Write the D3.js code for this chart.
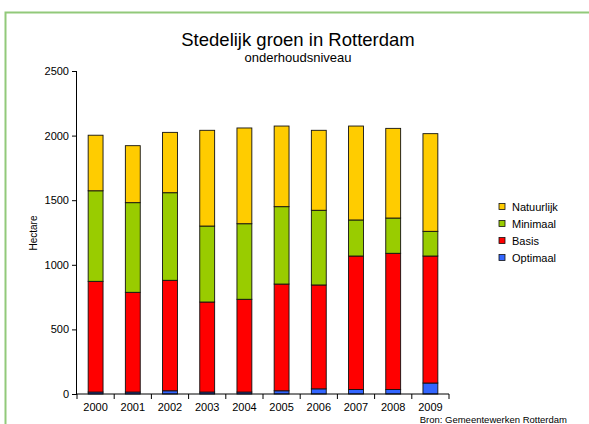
<!DOCTYPE html>
<html>
<head>
<meta charset="utf-8">
<script src="https://cdn.jsdelivr.net/npm/d3@7"></script>
<style>
  body { margin: 0; background: #fff; }
  text { font-family: "Liberation Sans", Arial, sans-serif; }
</style>
</head>
<body>
<div id="chart"></div>
<script>
// categories and series (hectare)
let years = ["2000", "2001", "2002", "2003", "2004", "2005", "2006", "2007", "2008", "2009"]
let optimaal   = [15, 15, 25, 15, 15, 25, 40, 35, 35, 85]
let basis      = [857, 772, 855, 697, 718, 826, 804, 1033, 1054, 983]
let minimaal   = [701, 694, 678, 588, 585, 599, 578, 279, 273, 191]
let natuurlijk = [430, 441, 467, 741, 741, 624, 619, 727, 694, 756]
let seriesNames = ["Optimaal", "Basis", "Minimaal", "Natuurlijk"]
let seriesColors = ["#3366ff", "#ff0000", "#99cc00", "#ffcc00"]
let yTicks = [0, 500, 1000, 1500, 2000, 2500]

let width = 589, height = 424
let margin = {top: 71, right: 140, bottom: 30, left: 77}

// build table for the stack
let table = years.map((y, i) => ({
    year: y,
    Optimaal: optimaal[i],
    Basis: basis[i],
    Minimaal: minimaal[i],
    Natuurlijk: natuurlijk[i]
}))
let stacked = d3.stack().keys(seriesNames)(table)

let x = d3.scaleBand().domain(years).range([margin.left, width - margin.right]).paddingInner(0.6).paddingOuter(0.3)
let y = d3.scaleLinear().domain([0, 2500]).range([height - margin.bottom, margin.top])

const svg = d3.select("#chart").append("svg")
    .attr("width", width)
    .attr("height", height)

// green frame (runs off right/bottom)
svg.append("path")
    .attr("d", `M5.5,${height + 5} V12.5 H${width + 5}`)
    .attr("fill", "none")
    .attr("stroke", "#92c97a")
    .attr("stroke-width", 2)

// title
svg.append("text")
    .attr("x", 298).attr("y", 46)
    .attr("text-anchor", "middle")
    .attr("font-size", 18.5)
    .attr("fill", "#000")
    .text("Stedelijk groen in Rotterdam")
svg.append("text")
    .attr("x", 298).attr("y", 62)
    .attr("text-anchor", "middle")
    .attr("font-size", 13)
    .attr("fill", "#000")
    .text("onderhoudsniveau")

// bars
let layers = svg.append("g")
    .selectAll("g")
    .data(stacked)
    .join("g")
    .attr("fill", (d, i) => seriesColors[i])
layers.selectAll("rect")
    .data(d => d)
    .join("rect")
    .attr("x", d => x(d.data.year))
    .attr("y", d => y(d[1]))
    .attr("width", x.bandwidth())
    .attr("height", d => y(d[0]) - y(d[1]))
    .attr("stroke", "#111")
    .attr("stroke-width", 0.9)

// y axis
let yAxis = g => g.attr("transform", `translate(${margin.left},0)`)
    .call(d3.axisLeft(y).tickValues(yTicks).tickSize(5).tickPadding(3).tickFormat(d3.format("d")))
svg.append("g").call(yAxis)
    .call(g => g.select(".domain").attr("d", `M-0.5,${y(2500)}V${y(0)}`))
    .call(g => g.selectAll("text").attr("font-size", 11).attr("font-family", "Liberation Sans, Arial, sans-serif"))

// x axis with ticks at category boundaries
let xAxisG = svg.append("g").attr("transform", `translate(0,${y(0)})`)
xAxisG.append("line")
    .attr("x1", margin.left).attr("x2", width - margin.right)
    .attr("stroke", "#000")
for (let i = 0; i <= years.length; i++) {
    let xp = margin.left + i * (width - margin.left - margin.right) / years.length
    xAxisG.append("line")
        .attr("x1", xp).attr("x2", xp).attr("y1", 0).attr("y2", 5)
        .attr("stroke", "#000")
}
xAxisG.selectAll("text.lab")
    .data(years)
    .join("text")
    .attr("class", "lab")
    .attr("x", d => x(d) + x.bandwidth() / 2)
    .attr("y", 17)
    .attr("text-anchor", "middle")
    .attr("font-size", 11)
    .text(d => d)

// y label
svg.append("text")
    .attr("transform", "translate(37,233) rotate(-90)")
    .attr("text-anchor", "middle")
    .attr("font-size", 10)
    .text("Hectare")

// source
svg.append("text")
    .attr("x", 567).attr("y", 423)
    .attr("text-anchor", "end")
    .attr("font-size", 9.5)
    .text("Bron: Gemeentewerken Rotterdam")

// legend (reverse order)
let legendItems = seriesNames.slice().reverse()
let legend = svg.append("g").attr("transform", "translate(499,207)")
legendItems.forEach((name, i) => {
    let row = legend.append("g").attr("transform", `translate(0,${i * 17})`)
    row.append("rect")
        .attr("x", 0).attr("y", -3.5)
        .attr("width", 6).attr("height", 6)
        .attr("fill", seriesColors[seriesNames.indexOf(name)])
        .attr("stroke", "#111")
        .attr("stroke-width", 0.8)
    row.append("text")
        .attr("x", 13).attr("y", 4)
        .attr("font-size", 11)
        .text(name)
})
</script>
</body>
</html>
